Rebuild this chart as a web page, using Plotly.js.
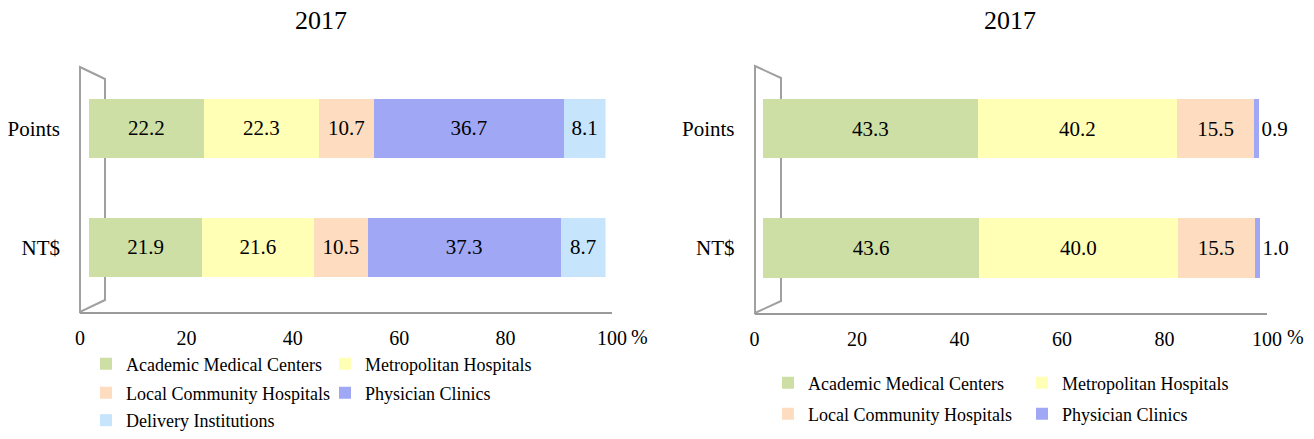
<!DOCTYPE html>
<html>
<head>
<meta charset="utf-8">
<script src="https://cdn.plot.ly/plotly-3.0.1.min.js"></script>
<style>html,body{margin:0;padding:0;background:#fff;}#chart{width:1314px;height:439px;}</style>
</head>
<body>
<div id="chart"></div>
<script>
// ---- data ----
const categories = ['NT$', 'Points'];
const seriesLeft = ['Academic Medical Centers', 'Metropolitan Hospitals', 'Local Community Hospitals', 'Physician Clinics', 'Delivery Institutions'];
const seriesRight = ['Academic Medical Centers', 'Metropolitan Hospitals', 'Local Community Hospitals', 'Physician Clinics'];
// values per series: [NT$, Points]
const leftAcademic = [21.9, 22.2];
const leftMetropolitan = [21.6, 22.3];
const leftLocal = [10.5, 10.7];
const leftClinics = [37.3, 36.7];
const leftDelivery = [8.7, 8.1];
const rightAcademic = [43.6, 43.3];
const rightMetropolitan = [40.0, 40.2];
const rightLocal = [15.5, 15.5];
const rightClinics = [1.0, 0.9];
const xTickVals = [0, 20, 40, 60, 80, 100];
const xTickText = ['0', '20', '40', '60', '80', '100'];
const titleLeft = '2017';
const titleRight = '2017';

// ---- styling ----
const W = 1314, H = 439;
const px = x => x / W;
const py = y => 1 - y / H;
const FONT = '"Liberation Serif", "Times New Roman", serif';
const colors = ['#CDDFA5', '#FFFFB5', '#FDDCBF', '#A0A8F5', '#C7E4FD'];

const leftVals = [leftAcademic, leftMetropolitan, leftLocal, leftClinics, leftDelivery];
const rightVals = [rightAcademic, rightMetropolitan, rightLocal, rightClinics];
const leftLegends = ['legend', 'legend', 'legend2', 'legend2', 'legend3'];
const rightLegends = ['legend4', 'legend4', 'legend5', 'legend5'];

const traces = [];
// empty traces that only create the visible tick-axis subplots
traces.push({type: 'scatter', mode: 'markers', x: [], y: [], xaxis: 'x', yaxis: 'y', showlegend: false, hoverinfo: 'skip'});
traces.push({type: 'scatter', mode: 'markers', x: [], y: [], xaxis: 'x2', yaxis: 'y2', showlegend: false, hoverinfo: 'skip'});

seriesLeft.forEach((name, i) => {
  traces.push({
    type: 'bar', orientation: 'h', name: name,
    y: categories, x: leftVals[i],
    xaxis: 'x3', yaxis: 'y',
    marker: {color: colors[i], line: {width: 0}},
    texttemplate: '%{x:.1f}', textposition: 'inside', insidetextanchor: 'middle',
    textangle: 0, constraintext: 'none',
    textfont: {family: FONT, size: 21, color: '#000'},
    legend: leftLegends[i], hoverinfo: 'x+name'
  });
});
seriesRight.forEach((name, i) => {
  const last = i === seriesRight.length - 1;
  traces.push({
    type: 'bar', orientation: 'h', name: name,
    y: categories, x: rightVals[i],
    xaxis: 'x4', yaxis: 'y2',
    marker: {color: colors[i], line: {width: 0}},
    texttemplate: '%{x:.1f}', textposition: last ? 'outside' : 'inside', insidetextanchor: 'middle',
    textangle: 0, constraintext: 'none', cliponaxis: false,
    textfont: {family: FONT, size: 21, color: '#000'},
    legend: rightLegends[i], hoverinfo: 'x+name'
  });
});

const yRange = [-0.545, 1.525];
const tickFont = {family: FONT, size: 20, color: '#000'};
const catFont = {family: FONT, size: 21, color: '#000'};

function legendAt(x, y, ew, yanchor) {
  return {
    orientation: 'h', x: px(x), y: py(y), xanchor: 'left', yanchor: yanchor || 'middle',
    xref: 'paper', yref: 'paper',
    font: {family: FONT, size: 18, color: '#000'},
    bgcolor: 'rgba(0,0,0,0)', borderwidth: 0,
    entrywidth: ew, entrywidthmode: 'pixels', traceorder: 'normal', itemwidth: 30
  };
}

const wallLine = {color: '#A0A0A0', width: 2};

const layout = {
  width: W, height: H,
  margin: {l: 0, r: 0, t: 0, b: 0, pad: 0, autoexpand: false},
  paper_bgcolor: '#fff', plot_bgcolor: 'rgba(0,0,0,0)',
  barmode: 'stack', bargap: 0.5,
  font: {family: FONT, color: '#000'},
  xaxis: {domain: [px(80), px(612)], range: [0, 100], anchor: 'y', tickvals: xTickVals, ticktext: xTickText,
          tickfont: tickFont, showgrid: false, zeroline: false, showline: true, linecolor: '#9A9A9A', linewidth: 2,
          ticks: '', ticklabelstandoff: 7, fixedrange: true},
  xaxis3: {domain: [px(89), px(605.5)], range: [0, 100], anchor: 'y', visible: false, fixedrange: true},
  yaxis: {domain: [py(312), py(66)], range: yRange, anchor: 'x', type: 'category', categoryarray: categories,
          categoryorder: 'array', tickfont: catFont, showgrid: false, zeroline: false, showline: false, ticks: '',
          ticklabelstandoff: 19, fixedrange: true},
  xaxis2: {domain: [px(754.5), px(1267)], range: [0, 100], anchor: 'y2', tickvals: xTickVals, ticktext: xTickText,
           tickfont: tickFont, showgrid: false, zeroline: false, showline: true, linecolor: '#9A9A9A', linewidth: 2,
           ticks: '', ticklabelstandoff: 7, fixedrange: true},
  xaxis4: {domain: [px(763), px(763 + 4.96 * 101)], range: [0, 101], anchor: 'y2', visible: false, fixedrange: true},
  yaxis2: {domain: [py(313), py(66)], range: yRange, anchor: 'x2', type: 'category', categoryarray: categories,
           categoryorder: 'array', tickfont: catFont, showgrid: false, zeroline: false, showline: false, ticks: '',
           ticklabelstandoff: 19, fixedrange: true},
  legend: legendAt(86, 364, 194),
  legend2: legendAt(86, 393, 194),
  legend3: legendAt(86, 439, 194, 'bottom'),
  legend4: legendAt(768, 383, 209),
  legend5: legendAt(768, 414, 209),
  shapes: [
    {type: 'path', xref: 'paper', yref: 'paper', layer: 'below', line: wallLine, fillcolor: 'rgba(0,0,0,0)',
     path: `M ${px(80)},${py(67)} L ${px(105)},${py(79)} L ${px(105)},${py(300)} L ${px(80)},${py(312)} Z`},
    {type: 'path', xref: 'paper', yref: 'paper', layer: 'below', line: wallLine, fillcolor: 'rgba(0,0,0,0)',
     path: `M ${px(755)},${py(66)} L ${px(781)},${py(78)} L ${px(781)},${py(301)} L ${px(755)},${py(313)} Z`}
  ],
  annotations: [
    {text: titleLeft, xref: 'paper', yref: 'paper', x: px(321), y: py(21), xanchor: 'center', yanchor: 'middle',
     showarrow: false, font: {family: FONT, size: 26, color: '#000'}},
    {text: titleRight, xref: 'paper', yref: 'paper', x: px(1010), y: py(21), xanchor: 'center', yanchor: 'middle',
     showarrow: false, font: {family: FONT, size: 26, color: '#000'}},
    {text: '%', xref: 'paper', yref: 'paper', x: px(639), y: py(337), xanchor: 'center', yanchor: 'middle',
     showarrow: false, font: tickFont},
    {text: '%', xref: 'paper', yref: 'paper', x: px(1295), y: py(337), xanchor: 'center', yanchor: 'middle',
     showarrow: false, font: tickFont}
  ]
};

Plotly.newPlot('chart', traces, layout, {staticPlot: true, displayModeBar: false});
</script>
</body>
</html>
